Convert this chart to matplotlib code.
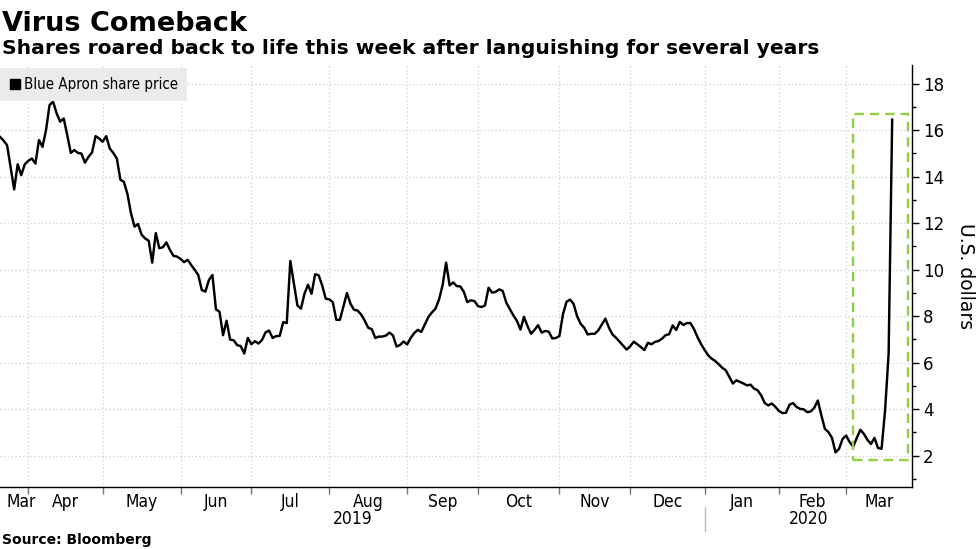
import numpy as np
import pandas as pd
import matplotlib
matplotlib.use("Agg")
import matplotlib.pyplot as plt
import matplotlib.transforms as mtransforms
from matplotlib.lines import Line2D
from matplotlib.patches import Rectangle
from matplotlib.ticker import FixedLocator, MultipleLocator, NullFormatter
from matplotlib import font_manager

# ---------------- data ----------------
market_holidays = ["2019-04-19", "2019-05-27", "2019-07-04", "2019-09-02", "2019-11-28",
                   "2019-12-25", "2020-01-01", "2020-01-20", "2020-02-17"]
start_date = "2019-03-20"
end_date = "2020-03-19"
highlight_start = "2020-03-04"

price = [
    15.71, 15.55, 15.35, 14.40, 13.45, 14.53, 14.06, 14.53, 14.68, 14.78,
    14.56, 15.57, 15.28, 16.00, 17.08, 17.22, 16.72, 16.36, 16.50, 15.78,
    15.02, 15.14, 15.02, 14.99, 14.60, 14.85, 15.04, 15.74, 15.64, 15.50,
    15.74, 15.21, 15.02, 14.78, 13.87, 13.77, 13.25, 12.42, 11.85, 11.96,
    11.50, 11.34, 11.24, 10.30, 11.57, 10.92, 10.96, 11.17, 10.85, 10.59,
    10.56, 10.46, 10.32, 10.42, 10.20, 9.99, 9.77, 9.12, 9.05, 9.55,
    9.77, 8.29, 8.19, 7.18, 7.80, 6.99, 6.96, 6.75, 6.71, 6.39,
    7.06, 6.79, 6.92, 6.82, 6.97, 7.30, 7.38, 7.06, 7.14, 7.15,
    7.74, 7.70, 10.37, 9.40, 8.46, 8.32, 8.96, 9.35, 8.96, 9.80,
    9.76, 9.32, 8.75, 8.72, 8.60, 7.84, 7.84, 8.42, 8.99, 8.53,
    8.27, 8.24, 8.07, 7.81, 7.50, 7.44, 7.06, 7.12, 7.12, 7.16,
    7.29, 7.17, 6.69, 6.76, 6.91, 6.78, 7.06, 7.27, 7.41, 7.32,
    7.64, 7.96, 8.16, 8.32, 8.71, 9.32, 10.30, 9.32, 9.45, 9.29,
    9.28, 9.05, 8.60, 8.68, 8.65, 8.43, 8.39, 8.46, 9.22, 9.01,
    9.04, 9.15, 9.08, 8.58, 8.30, 8.03, 7.80, 7.42, 7.97, 7.57,
    7.24, 7.41, 7.61, 7.29, 7.36, 7.33, 7.04, 7.06, 7.14, 8.07,
    8.61, 8.71, 8.53, 8.00, 7.67, 7.50, 7.21, 7.24, 7.24, 7.39,
    7.64, 7.89, 7.50, 7.21, 7.07, 6.90, 6.73, 6.56, 6.70, 6.90,
    6.79, 6.67, 6.54, 6.85, 6.79, 6.89, 6.93, 7.03, 7.18, 7.22,
    7.60, 7.40, 7.75, 7.62, 7.70, 7.70, 7.45, 7.10, 6.80, 6.55,
    6.32, 6.17, 6.07, 5.93, 5.78, 5.67, 5.38, 5.10, 5.24, 5.17,
    5.10, 5.02, 5.05, 4.88, 4.81, 4.59, 4.26, 4.16, 4.24, 4.10,
    3.92, 3.83, 3.84, 4.19, 4.26, 4.09, 4.01, 3.99, 3.87, 3.90,
    4.06, 4.37, 3.73, 3.15, 3.01, 2.76, 2.14, 2.29, 2.72, 2.86,
    2.58, 2.39, 2.76, 3.11, 2.94, 2.68, 2.50, 2.76, 2.33, 2.29,
    3.95, 6.40, 16.45,
]

title = "Virus Comeback"
subtitle = "Shares roared back to life this week after languishing for several years"
series_name = "Blue Apron share price"
y_label = "U.S. dollars"
source = "Source: Bloomberg"
y_ticks = [2, 4, 6, 8, 10, 12, 14, 16, 18]

# ---------------- build ----------------
dates = pd.bdate_range(start_date, end_date, freq="C", holidays=market_holidays)
assert len(dates) == len(price), (len(dates), len(price))
n = len(dates)
x = np.arange(n)

plt.rcParams["font.family"] = ["DejaVu Sans"]

# narrow font for axis/legend labels if a condensed face is available
installed = {f.name for f in font_manager.fontManager.ttflist}
condensed_ok = any(f.name == "DejaVu Sans" and f.stretch == "condensed"
                   for f in font_manager.fontManager.ttflist)
if "Liberation Sans Narrow" in installed:
    NARROW = dict(family="Liberation Sans Narrow")
    small_scale = 1.0
elif condensed_ok:
    NARROW = dict(family="DejaVu Sans", fontstretch="condensed")
    small_scale = 1.0
else:
    NARROW = dict(family="DejaVu Sans")
    small_scale = 0.88

W, H = 977, 549
fig = plt.figure(figsize=(W / 100, H / 100), dpi=100)
fig.patch.set_facecolor("white")

ax_left, ax_right, ax_top, ax_bottom = 0, 912, 65, 487
ax = fig.add_axes([ax_left / W, 1 - ax_bottom / H, (ax_right - ax_left) / W, (ax_bottom - ax_top) / H])

ax.plot(x, price, color="black", lw=1.75, solid_joinstyle="round", zorder=3)

xmin, xmax = 0, (n - 1) + 5.6
ax.set_xlim(xmin, xmax)
ax.set_ylim(0.65, 18.8)

for s in ["top", "left"]:
    ax.spines[s].set_visible(False)
ax.spines["right"].set_linewidth(1.0)
ax.spines["bottom"].set_linewidth(1.0)

# y axis on the right
ax.yaxis.tick_right()
ax.yaxis.set_major_locator(FixedLocator(y_ticks))
ax.yaxis.set_minor_locator(MultipleLocator(1))
ax.tick_params(axis="y", which="major", length=5, width=1, pad=3, labelsize=12, colors="black")
ax.tick_params(axis="y", which="minor", length=3, width=1)
fig.text(965 / W, 1 - 276 / H, y_label, rotation=270, fontsize=13.5, ha="center", va="center")

# month boundaries and labels
periods = dates.to_period("M")
bounds = [i for i in range(1, n) if periods[i] != periods[i - 1]]
seg_starts = [xmin] + bounds
seg_ends = bounds + [xmax]
seg_labels = [periods[0].strftime("%b")] + [periods[b].strftime("%b") for b in bounds]
centers = [(a + b) / 2 for a, b in zip(seg_starts, seg_ends)]
centers[0] = max(centers[0], seg_starts[0] + 6)

ax.xaxis.set_major_locator(FixedLocator(bounds))
ax.xaxis.set_major_formatter(NullFormatter())
ax.xaxis.set_minor_locator(FixedLocator(centers))
ax.set_xticklabels(seg_labels, minor=True)
ax.tick_params(axis="x", which="major", length=5, width=1, color="#777777")
ax.tick_params(axis="x", which="minor", length=0, pad=4, labelsize=12.5 * small_scale)
for lab in ax.get_xticklabels(minor=True):
    lab.set(**NARROW)

# grid
grid_kw = dict(color="#cfcfcf", lw=0.9, linestyle=(0, (1, 2)), zorder=0)
for yv in y_ticks:
    ax.axhline(yv, **grid_kw)
for b in bounds:
    ax.axvline(b, **grid_kw)

# years
trans = mtransforms.blended_transform_factory(ax.transData, ax.transAxes)
year_bounds = [i for i in range(1, n) if dates[i].year != dates[i - 1].year]
ystarts = [xmin] + year_bounds
yends = year_bounds + [xmax]
years = [str(dates[0].year)] + [str(dates[b].year) for b in year_bounds]
for a, b, yr in zip(ystarts, yends, years):
    ax.text((a + b) / 2, -0.077, yr, transform=trans, ha="center", va="center",
            fontsize=12.5 * small_scale, clip_on=False, **NARROW)
for yb in year_bounds:
    ax.add_line(Line2D([yb, yb], [-0.047, -0.104], transform=trans, color="#bbbbbb",
                       lw=1, clip_on=False))

# highlight box
hs = dates.get_loc(pd.Timestamp(highlight_start))
win = price[hs:]
bx0 = hs - 0.1
bx1 = (n - 1) + 4.4
by0 = min(win) - 0.48
by1 = max(win) + 0.24
ax.add_patch(Rectangle((bx0, by0), bx1 - bx0, by1 - by0, fill=False, edgecolor="#8fd13f",
                       lw=1.7, linestyle=(0, (4, 2.5)), zorder=4))

# legend
handle = Line2D([], [], marker="s", color="black", linestyle="None", markersize=6.5)
prop = font_manager.FontProperties(family=NARROW["family"], stretch=NARROW.get("fontstretch", "normal"),
                                   size=10.8 * small_scale)
leg = ax.legend([handle], [series_name], loc="upper left", bbox_to_anchor=(0, 1 - 3 / 422),
                borderaxespad=0, frameon=True, fancybox=False, facecolor="#ebebeb",
                edgecolor="none", framealpha=1, handlelength=0.75, handletextpad=0.25,
                borderpad=0.6, prop=prop)
leg.get_frame().set_linewidth(0)

# titles
fig.text(2 / W, 1 - 31 / H, title, fontsize=19.5, fontweight="bold", va="baseline", ha="left")
fig.text(2 / W, 1 - 54 / H, subtitle, fontsize=14.6, fontweight="bold", va="baseline", ha="left")
fig.text(2 / W, 1 - 544 / H, source, fontsize=10, fontweight="bold", va="baseline", ha="left")

fig.savefig("out.png", dpi=100, facecolor="white")
